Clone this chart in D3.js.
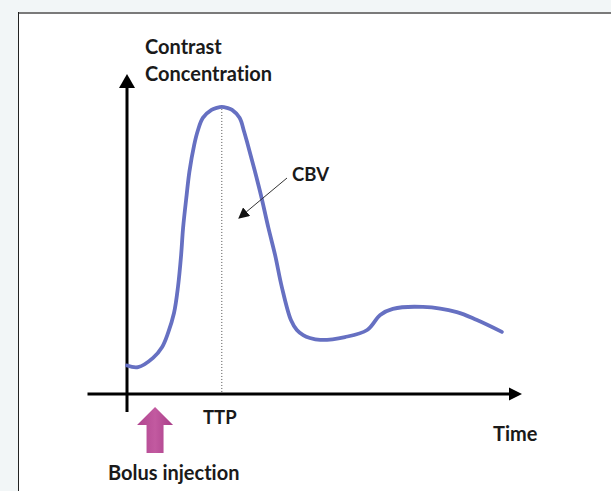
<!DOCTYPE html>
<html>
<head>
<meta charset="utf-8">
<script src="https://cdn.jsdelivr.net/npm/d3@7"></script>
<style>
  html, body { margin: 0; padding: 0; background: #f2f6f7; }
  svg { display: block; }
  text { font-family: Lato, "Open Sans", sans-serif; font-weight: 700; fill: #1a1a1a; font-variant-ligatures: none; }
</style>
</head>
<body>
<svg id="chart" width="611" height="491"></svg>
<script>
// ---- data ----
const timeValues = [0, 2.8, 6.6, 8.9, 10.4, 11.9, 12.9, 13.7, 14.2, 15.1, 15.8, 17.0, 17.9, 19.2, 21.4, 22.7, 24.0, 25.3, 26.6, 28.5, 29.6, 30.6, 32.4, 33.9, 35.8, 37.5, 39.2, 41.5, 43.0, 44.6, 46.3, 48.9, 55.2, 60.8, 64.1, 67.3, 74.9, 83.5, 88.6, 94.9];
const concValues = [8.9, 8.4, 11.3, 14.7, 19.1, 25.3, 33.4, 43.4, 51.9, 62.2, 69.5, 77.8, 82.2, 86.3, 88.8, 89.4, 89.7, 89.4, 88.8, 86.3, 82.2, 77.8, 69.5, 62.2, 51.9, 43.4, 33.4, 23.1, 20.0, 18.4, 17.5, 16.9, 17.8, 20.0, 24.7, 26.6, 27.2, 25.6, 23.1, 19.4];
const yAxisLabelLines = ["Contrast", "Concentration"];
const xAxisLabel = "Time";
const ttpLabel = "TTP";
const ttpTime = 24.0;
const bolusLabel = "Bolus injection";
const bolusTime = 7.1;
const cbvLabel = "CBV";

const svg = d3.select("#chart");
const W = 611, H = 491;

// frame
svg.append("rect").attr("x", 18).attr("y", 12).attr("width", W - 18).attr("height", H - 12).attr("fill", "#ffffff");
svg.append("line").attr("x1", 18).attr("x2", W).attr("y1", 13).attr("y2", 13).attr("stroke", "#7a7a7a").attr("stroke-width", 2);
svg.append("line").attr("x1", 18.5).attr("x2", 18.5).attr("y1", 12).attr("y2", H).attr("stroke", "#222").attr("stroke-width", 1);

// scales
const x = d3.scaleLinear().domain([0, 100]).range([127, 522]);
const y = d3.scaleLinear().domain([0, 100]).range([394, 74]);

const defs = svg.append("defs");
defs.append("marker").attr("id", "cbvHead").attr("viewBox", "0 0 10 10").attr("refX", 9).attr("refY", 5)
  .attr("markerWidth", 11).attr("markerHeight", 11).attr("markerUnits", "userSpaceOnUse").attr("orient", "auto")
  .append("path").attr("d", "M0,0 L10,5 L0,10 Z").attr("fill", "#111");
const grad = defs.append("linearGradient").attr("id", "bolusGrad").attr("x1", 0).attr("x2", 1).attr("y1", 0).attr("y2", 0);
grad.append("stop").attr("offset", "0%").attr("stop-color", "#b0448f");
grad.append("stop").attr("offset", "50%").attr("stop-color", "#c25aa0");
grad.append("stop").attr("offset", "100%").attr("stop-color", "#a93d88");

// TTP dotted line
svg.append("line")
  .attr("x1", x(ttpTime)).attr("x2", x(ttpTime))
  .attr("y1", y(d3.max(concValues)) + 2).attr("y2", y(0))
  .attr("stroke", "#555").attr("stroke-width", 1).attr("stroke-dasharray", "1,2");

// axes (arrows)
const axisStroke = "#000";
svg.append("line").attr("x1", x(-10)).attr("x2", x(97)).attr("y1", y(0)).attr("y2", y(0))
  .attr("stroke", axisStroke).attr("stroke-width", 3);
svg.append("path")
  .attr("d", `M${x(100)},${y(0)} L${x(100) - 13},${y(0) - 6.5} L${x(100) - 13},${y(0) + 6.5} Z`)
  .attr("fill", axisStroke);
svg.append("line").attr("x1", x(0)).attr("x2", x(0)).attr("y1", y(-5.6)).attr("y2", y(96))
  .attr("stroke", axisStroke).attr("stroke-width", 3);
svg.append("path")
  .attr("d", `M${x(0)},${y(100)} L${x(0) - 8},${y(100) + 14} L${x(0) + 8},${y(100) + 14} Z`)
  .attr("fill", axisStroke);

// curve
const pts = timeValues.map((t, i) => [t, concValues[i]]);
const line = d3.line().x(d => x(d[0])).y(d => y(d[1])).curve(d3.curveCatmullRom.alpha(0.5));
svg.append("path").datum(pts).attr("d", line)
  .attr("fill", "none").attr("stroke", "#6670c2").attr("stroke-width", 3.8)
  .attr("stroke-linecap", "round").attr("stroke-linejoin", "round");

// CBV annotation
svg.append("line").attr("x1", 287).attr("y1", 178).attr("x2", 239).attr("y2", 218)
  .attr("stroke", "#333").attr("stroke-width", 1).attr("marker-end", "url(#cbvHead)");
svg.append("text").attr("x", 292).attr("y", 181).attr("font-size", 18.5).text(cbvLabel);

// bolus arrow
const bx = x(bolusTime), by = y(0) + 13;
svg.append("path")
  .attr("d", `M${bx},${by} L${bx + 18},${by + 18} L${bx + 8.5},${by + 18} L${bx + 8.5},${by + 46} L${bx - 8.5},${by + 46} L${bx - 8.5},${by + 18} L${bx - 18},${by + 18} Z`)
  .attr("fill", "url(#bolusGrad)");

// labels
const yl = svg.append("text").attr("x", 145).attr("y", 54).attr("font-size", 20);
yAxisLabelLines.forEach((s, i) => yl.append("tspan").attr("x", 145).attr("dy", i === 0 ? 0 : 27).text(s));
svg.append("text").attr("x", 203).attr("y", 424).attr("font-size", 18.5).text(ttpLabel);
svg.append("text").attr("x", 493).attr("y", 441).attr("font-size", 20).text(xAxisLabel);
svg.append("text").attr("x", 108).attr("y", 480).attr("font-size", 20).text(bolusLabel);
</script>
</body>
</html>
